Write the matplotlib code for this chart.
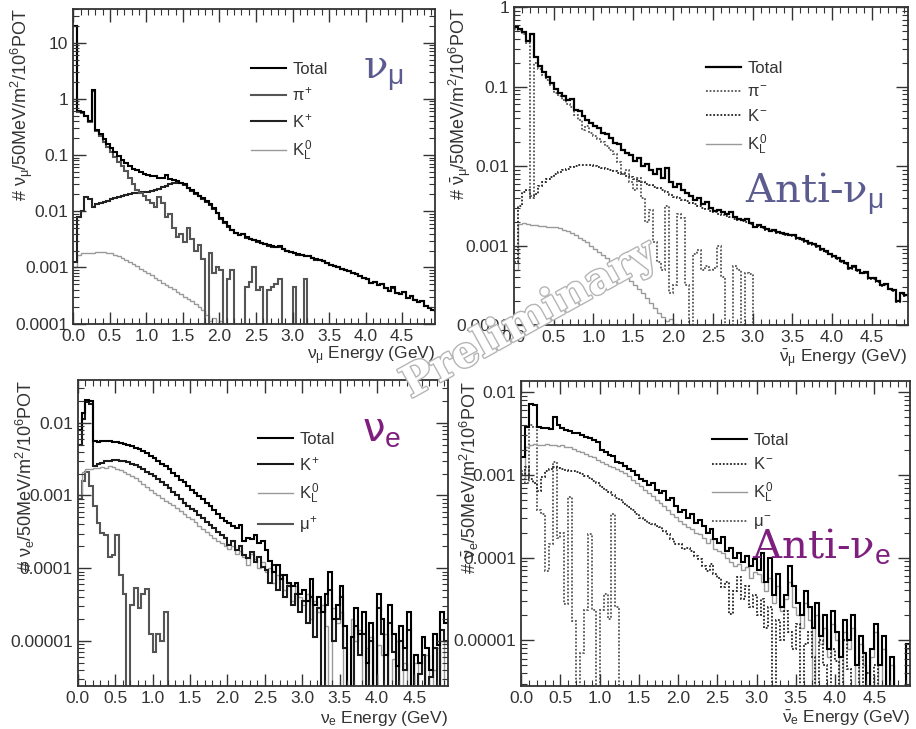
import numpy as np
import matplotlib.pyplot as plt
from matplotlib import patheffects
from matplotlib.ticker import FixedLocator, FixedFormatter, MultipleLocator, LogLocator, NullFormatter

plt.rcParams['font.family'] = ['Liberation Sans', 'DejaVu Sans']
plt.rcParams['mathtext.fontset'] = 'custom'
plt.rcParams['mathtext.rm'] = 'Liberation Sans'
plt.rcParams['mathtext.it'] = 'Liberation Sans'
plt.rcParams['mathtext.bf'] = 'Liberation Sans:bold'

# flux per 50 MeV bin, stored as log10; EMPTY = no entries
EMPTY = -9
bin_edges = np.linspace(0.0, 5.0, 101)

x_ticks = [0.0, 0.5, 1.0, 1.5, 2.0, 2.5, 3.0, 3.5, 4.0, 4.5]
x_tick_labels = ['0.0', '0.5', '1.0', '1.5', '2.0', '2.5', '3.0', '3.5', '4.0', '4.5']

# ---- nu_mu ----
numu_total = [
    1.30, -0.22, -0.24, -0.30, -0.40, 0.15, -0.55, -0.63, -0.72, -0.80,
    -0.88, -0.95, -1.02, -1.08, -1.14, -1.20, -1.24, -1.27, -1.30, -1.33,
    -1.35, -1.37, -1.38, -1.40, -1.41, -1.36, -1.42, -1.45, -1.47, -1.49,
    -1.52, -1.58, -1.63, -1.68, -1.72, -1.77, -1.82, -1.88, -1.95, -2.03,
    -2.12, -2.20, -2.27, -2.33, -2.38, -2.42, -2.40, -2.46, -2.49, -2.51,
    -2.53, -2.56, -2.58, -2.60, -2.62, -2.64, -2.62, -2.67, -2.70, -2.72,
    -2.74, -2.76, -2.78, -2.80, -2.79, -2.83, -2.85, -2.87, -2.88, -2.92,
    -2.95, -2.97, -3.00, -3.02, -3.04, -3.06, -3.09, -3.12, -3.15, -3.18,
    -3.20, -3.27, -3.25, -3.32, -3.30, -3.37, -3.42, -3.35, -3.45, -3.48,
    -3.44, -3.55, -3.50, -3.58, -3.62, -3.60, -3.68, -3.72, -3.76, -3.78]
numu_pip = [
    1.30, -0.23, -0.25, -0.31, -0.41, 0.14, -0.57, -0.66, -0.76, -0.86,
    -0.95, -1.04, -1.12, -1.20, -1.28, -1.40, -1.52, -1.62, -1.68, -1.72,
    -1.80, -1.85, -1.92, -1.75, -1.85, -2.10, -2.05, -2.30, -2.45, -2.40,
    -2.55, -2.30, -2.50, -2.70, -2.60, -2.85, EMPTY, -2.75, -3.10, -3.00,
    -3.05, EMPTY, -3.20, -3.05, EMPTY, EMPTY, EMPTY, -3.35, -3.25, -3.00,
    -3.40, -3.35, EMPTY, -3.40, -3.35, -3.30, -3.20, EMPTY, EMPTY, EMPTY,
    -3.35, EMPTY, EMPTY, -3.20] + [EMPTY] * 36
numu_kp = [
    -2.90, -2.10, -2.00, -1.75, -1.78, -1.92, -1.88, -1.85, -1.83, -1.81,
    -1.79, -1.77, -1.75, -1.73, -1.71, -1.70, -1.68, -1.67, -1.66, -1.66,
    -1.65, -1.64, -1.62, -1.60, -1.57, -1.55, -1.52, -1.50, -1.49, -1.50,
    -1.53, -1.59, -1.64, -1.69, -1.73, -1.78, -1.83, -1.89, -1.96, -2.04,
    -2.13, -2.21, -2.28, -2.34, -2.39, -2.43, -2.41, -2.47, -2.50, -2.52,
    -2.54, -2.57, -2.58, -2.61, -2.63, -2.64, -2.63, -2.68, -2.70, -2.73,
    -2.74, -2.77, -2.78, -2.80, -2.80, -2.83, -2.86, -2.87, -2.89, -2.92,
    -2.95, -2.98, -3.00, -3.02, -3.05, -3.06, -3.09, -3.12, -3.15, -3.19,
    -3.20, -3.27, -3.26, -3.32, -3.30, -3.37, -3.42, -3.36, -3.45, -3.48,
    -3.44, -3.55, -3.51, -3.58, -3.62, -3.60, -3.68, -3.72, -3.76, -3.78]
numu_k0l = [
    -3.00, -2.78, -2.74, -2.74, -2.75, -2.74, -2.73, -2.72, -2.73, -2.74,
    -2.75, -2.77, -2.80, -2.83, -2.86, -2.90, -2.94, -2.98, -3.02, -3.06,
    -3.10, -3.14, -3.18, -3.22, -3.27, -3.31, -3.35, -3.39, -3.44, -3.48,
    -3.52, -3.56, -3.60, -3.65, -3.70, -3.75, -3.85, -3.95, -3.90, -4.05,
    -3.95] + [EMPTY] * 59

# ---- anti nu_mu ----
anumu_total = [
    -0.25, -0.27, -0.31, -0.42, -0.33, -0.62, -0.74, -0.81, -0.88, -0.95,
    -1.03, -1.08, -1.12, -1.17, -1.15, -1.29, -1.30, -1.37, -1.42, -1.46,
    -1.50, -1.52, -1.58, -1.60, -1.65, -1.71, -1.72, -1.80, -1.83, -1.86,
    -1.93, -1.90, -2.00, -1.97, -2.05, -2.10, -2.03, -2.15, -2.02, -2.20,
    -2.26, -2.22, -2.30, -2.34, -2.37, -2.43, -2.40, -2.47, -2.45, -2.52,
    -2.56, -2.55, -2.58, -2.60, -2.58, -2.64, -2.66, -2.68, -2.66, -2.72,
    -2.77, -2.74, -2.77, -2.79, -2.81, -2.80, -2.83, -2.84, -2.85, -2.86,
    -2.87, -2.90, -2.92, -2.94, -2.97, -2.98, -3.01, -3.04, -3.07, -3.10,
    -3.13, -3.16, -3.19, -3.22, -3.28, -3.26, -3.31, -3.34, -3.33, -3.41,
    -3.41, -3.45, -3.50, -3.48, -3.54, -3.56, -3.70, -3.60, -3.62, -3.62]
anumu_pim = [
    -0.27, -0.29, -0.33, -0.45, -2.40, -0.70, -0.78, -0.85, -0.92, -0.98,
    -1.08, -1.12, -1.17, -1.22, -1.25, -1.35, -1.42, -1.54, -1.50, -1.58,
    -1.62, -1.66, -1.70, -1.75, -1.80, -1.85, -1.95, -2.10, -2.05, -2.20,
    -2.30, -2.15, -2.40, -2.70, -2.55, -2.95, -3.20, -3.30, -2.50, -3.60,
    -3.50, -2.60, -2.65, -3.50, EMPTY, -3.10, -3.05, -3.30, -3.25, -3.30,
    -3.28, -3.00, -3.40, EMPTY, EMPTY, -3.25, -3.30, EMPTY, -3.35, -3.36] + [EMPTY] * 40
anumu_km = [
    -3.20, -2.50, -2.33, -2.30, -2.38, -2.35, -2.25, -2.20, -2.16, -2.13,
    -2.10, -2.07, -2.05, -2.03, -2.01, -2.00, -1.99, -1.98, -1.98, -1.99,
    -2.00, -2.01, -2.02, -2.03, -2.05, -2.06, -2.08, -2.10, -2.12, -2.14,
    -2.16, -2.18, -2.20, -2.22, -2.24, -2.26, -2.28, -2.30, -2.33, -2.36,
    -2.39, -2.40, -2.42, -2.44, -2.46, -2.48, -2.50, -2.52, -2.54, -2.56,
    -2.58, -2.60, -2.62, -2.63, -2.64, -2.66, -2.68, -2.69, -2.70, -2.73,
    -2.77, -2.75, -2.78, -2.80, -2.82, -2.81, -2.84, -2.85, -2.86, -2.87,
    -2.88, -2.91, -2.93, -2.95, -2.98, -2.99, -3.02, -3.05, -3.08, -3.11,
    -3.14, -3.17, -3.20, -3.23, -3.29, -3.27, -3.32, -3.35, -3.34, -3.42,
    -3.42, -3.46, -3.51, -3.49, -3.55, -3.57, -3.71, -3.61, -3.63, -3.63]
anumu_k0l = [
    -3.30, -2.73, -2.72, -2.73, -2.74, -2.74, -2.75, -2.75, -2.76, -2.76,
    -2.77, -2.78, -2.80, -2.82, -2.84, -2.87, -2.90, -2.93, -2.96, -3.00,
    -3.04, -3.08, -3.12, -3.16, -3.21, -3.26, -3.30, -3.35, -3.40, -3.45,
    -3.50, -3.55, -3.60, -3.66, -3.72, -3.78, -3.85, -3.90, -3.95, -3.92,
    -3.98] + [EMPTY] * 59

# ---- nu_e ----
nue_total = [
    -2.10, -1.86, -1.68, -1.70, -2.25, -2.26, -2.25, -2.25, -2.25, -2.26,
    -2.27, -2.28, -2.29, -2.30, -2.32, -2.34, -2.36, -2.39, -2.42, -2.45,
    -2.48, -2.52, -2.56, -2.60, -2.64, -2.69, -2.73, -2.78, -2.82, -2.87,
    -2.92, -2.96, -3.01, -3.05, -3.10, -3.15, -3.20, -3.25, -3.31, -3.35,
    -3.38, -3.42, -3.45, -3.40, -3.62, -3.58, -3.60, -3.55, -3.66, -3.62,
    -3.75, -3.90, -4.05, -3.95, -4.15, -4.10, -4.20, -4.25, -4.20, -4.35,
    -4.30, -4.45, -4.15, -4.50, -4.40, -4.60, -4.35, -4.05, -4.70, -4.50,
    -4.25, -4.80, EMPTY, -4.95, -4.55, -4.90, -4.60, -5.30, -4.75, EMPTY,
    -4.35, -4.70, -5.20, -4.50, -4.90, -5.35, -4.80, -5.10, -4.60, EMPTY,
    -5.20, -5.30, -4.95, -5.10, -5.40, -4.90, -5.05, -4.60, -4.75, -4.70]
nue_kp = [
    -2.30, -1.95, -1.72, -1.74, -2.60, -2.57, -2.55, -2.53, -2.52, -2.51,
    -2.51, -2.52, -2.53, -2.54, -2.56, -2.58, -2.61, -2.64, -2.67, -2.70,
    -2.73, -2.77, -2.81, -2.85, -2.90, -2.95, -3.00, -3.05, -3.10, -3.14,
    -3.18, -3.22, -3.27, -3.31, -3.36, -3.40, -3.45, -3.50, -3.55, -3.58,
    -3.68, -3.63, -3.75, -3.70, -3.82, -3.86, -3.78, -3.92, -3.85, -3.98,
    -4.02, -4.20, -3.95, -4.30, -4.10, -4.40, -4.25, -4.50, -4.35, -4.60,
    -4.45, -4.75, -4.40, -4.95, -4.55, EMPTY, -4.50, -4.30, -5.00, -4.70,
    -4.40, -5.10, EMPTY, EMPTY, -4.80, -5.20, -4.90, EMPTY, -5.00, EMPTY,
    -4.55, -4.90, EMPTY, -4.75, -5.15, EMPTY, -5.00, -5.40, -4.85, EMPTY,
    EMPTY, -5.45, -5.20, EMPTY, -5.50, -5.10, EMPTY, -4.85, -5.00, -5.05]
nue_k0l = [
    -3.00, -2.68, -2.64, -2.63, -2.62, -2.62, -2.61, -2.62, -2.60, -2.61,
    -2.63, -2.65, -2.67, -2.70, -2.73, -2.76, -2.80, -2.84, -2.88, -2.92,
    -2.97, -3.00, -3.03, -3.07, -3.10, -3.13, -3.17, -3.21, -3.25, -3.29,
    -3.33, -3.37, -3.42, -3.46, -3.50, -3.54, -3.58, -3.62, -3.66, -3.70,
    -3.74, -3.70, -3.80, -3.76, -3.85, -3.95, -3.80, -3.88, -4.00, -3.92,
    -4.05, -4.00, -4.20, -4.10, -4.15, -4.30, -4.20, -4.45, -4.25, -4.40,
    -4.50, -4.35, -4.70, -4.45, -4.60, -4.50, -4.80, EMPTY, -4.55, -4.75,
    -4.60, EMPTY, EMPTY, -4.70, -5.00, -4.85, EMPTY, -5.10, -4.95, EMPTY,
    -5.05, -5.20, -4.90, EMPTY, -5.25, -5.00, EMPTY, -5.30, EMPTY, EMPTY,
    -5.30, EMPTY, EMPTY, -5.20, EMPTY, -5.40, -5.10, EMPTY, -5.00, -5.20]
nue_mup = [
    -3.05, -2.80, -2.68, -2.87, -3.15, -3.38, -3.52, -3.55, -3.84, -3.82,
    -3.54, -4.10, -4.35, EMPTY, -4.50, -4.27, -4.55, -4.35, -4.28, -4.90,
    -5.15, -4.90, -5.00, -4.60] + [EMPTY] * 76

# ---- anti nu_e ----
anue_total = [
    -2.79, -2.42, -2.14, -2.16, -2.42, -2.44, -2.44, -2.45, -2.30, -2.40,
    -2.44, -2.46, -2.47, -2.49, -2.50, -2.52, -2.54, -2.56, -2.58, -2.60,
    -2.70, -2.73, -2.76, -2.77, -2.84, -2.86, -2.89, -2.93, -2.96, -3.00,
    -3.05, -3.08, -3.12, -3.10, -3.18, -3.22, -3.20, -3.30, -3.28, -3.38,
    -3.45, -3.42, -3.52, -3.48, -3.58, -3.55, -3.62, -3.70, -3.65, -3.78,
    -3.82, -3.75, -3.92, -3.88, -4.00, -3.95, -4.05, -3.98, -4.10, -4.02,
    -4.15, -3.95, -4.30, -4.00, -4.45, -4.20, -4.60, -4.45, -4.10, -4.35,
    -4.55, -4.70, -4.40, -4.60, -4.85, -4.55, -4.95, -4.70, -5.10, -4.65,
    -4.90, -5.20, -4.75, -5.00, -4.70, -5.30, -4.95, -5.15, EMPTY, -5.10,
    -4.80, -5.30, -4.95, EMPTY, -5.20, EMPTY, EMPTY, EMPTY, -5.05, -5.10]
anue_km = [
    -2.99, -2.91, -3.05, -3.10, -3.20, -3.03, -2.95, -2.93, -2.91, -2.92,
    -2.93, -2.94, -2.95, -2.96, -2.97, -2.99, -3.01, -3.04, -3.07, -3.10,
    -3.15, -3.18, -3.21, -3.25, -3.28, -3.31, -3.35, -3.39, -3.43, -3.48,
    -3.52, -3.55, -3.58, -3.60, -3.62, -3.63, -3.68, -3.72, -3.78, -3.84,
    -3.84, -3.90, -3.88, -3.92, -3.98, -4.02, -4.10, -4.16, -4.08, -4.20,
    -4.25, -4.36, -4.30, -4.68, -4.40, -4.24, -4.50, -4.35, -4.60, -4.45,
    -4.70, -4.50, -4.85, -4.60, EMPTY, -4.75, -5.00, -4.65, -4.90, -5.10,
    -4.80, EMPTY, -5.05, -4.90, -5.20, EMPTY, -5.00, -5.30, EMPTY, -5.10,
    -5.25, EMPTY, -5.00, -5.35, EMPTY, EMPTY, -5.20, EMPTY, -5.40, EMPTY,
    -5.30] + [EMPTY] * 9
anue_k0l = [
    -3.05, -2.66, -2.64, -2.63, -2.64, -2.64, -2.63, -2.64, -2.64, -2.65,
    -2.64, -2.66, -2.67, -2.69, -2.71, -2.73, -2.75, -2.77, -2.79, -2.82,
    -2.85, -2.87, -2.89, -2.91, -2.93, -2.95, -2.98, -3.02, -3.06, -3.10,
    -3.14, -3.18, -3.22, -3.26, -3.30, -3.34, -3.38, -3.42, -3.47, -3.51,
    -3.56, -3.60, -3.63, -3.66, -3.70, -3.72, -3.76, -3.82, -3.78, -3.90,
    -3.92, -3.95, -4.00, -4.05, -4.10, -4.08, -4.15, -4.12, -4.25, -4.18,
    -4.20, -4.30, -4.40, -4.25, -4.55, -4.35, -4.65, -4.50, -4.30, -4.60,
    -4.70, -4.85, -4.55, -4.75, EMPTY, -4.70, -5.05, -4.85, -5.20, -4.80,
    -5.00, EMPTY, -4.90, -5.10, -4.85, EMPTY, -5.05, -5.30, EMPTY, -5.20,
    -4.90, EMPTY, -5.10, EMPTY, -5.30, EMPTY, EMPTY, EMPTY, -5.10, EMPTY]
anue_mum = [
    -2.95, -3.10, -2.40, -2.42, -3.43, -3.47, -4.16, -3.84, -2.85, -3.76,
    -3.70, -4.56, -3.27, -4.77, EMPTY, -5.16, -4.64, -3.72, -4.64, EMPTY,
    -4.64, -4.44, -4.74, -3.48, -4.60] + [EMPTY] * 75

# y axis ticks per panel
ticks_numu = [1e-4, 1e-3, 1e-2, 1e-1, 1, 10]
labels_numu = ['0.0001', '0.001', '0.01', '0.1', '1', '10']
ticks_anumu = [1e-4, 1e-3, 1e-2, 1e-1, 1]
labels_anumu = ['0.0001', '0.001', '0.01', '0.1', '1']
ticks_nue = [1e-5, 1e-4, 1e-3, 1e-2]
labels_nue = ['0.00001', '0.0001', '0.001', '0.01']

SOLID = '-'
DOT = (0, (1, 1))


def panel(ax, series, ylim, yticks, ylabels, ytitle, xtitle, leg_xy):
    handles = []
    # components first, total drawn on top
    for vals, label, color, ls, lw in series[::-1]:
        h = ax.stairs(10.0 ** np.array(vals), bin_edges, baseline=None,
                      color=color, linestyle=ls, lw=lw, label=label)
        handles.insert(0, h)
    ax.set_yscale('log')
    ax.set_xlim(0, 4.95)
    ax.set_ylim(*ylim)
    ax.xaxis.set_major_locator(FixedLocator(x_ticks))
    ax.xaxis.set_major_formatter(FixedFormatter(x_tick_labels))
    ax.xaxis.set_minor_locator(MultipleLocator(0.1))
    ax.yaxis.set_major_locator(FixedLocator(yticks))
    ax.yaxis.set_major_formatter(FixedFormatter(ylabels))
    ax.yaxis.set_minor_locator(LogLocator(base=10, subs=np.arange(2, 10), numticks=30))
    ax.yaxis.set_minor_formatter(NullFormatter())
    ax.tick_params(which='both', direction='in', top=True, right=True,
                   labelsize=12.5, labelcolor='#333333', color='#333333')
    ax.tick_params(which='major', length=9, width=1.0)
    ax.tick_params(which='minor', length=4.5, width=0.8)
    for s in ax.spines.values():
        s.set_linewidth(1.3)
        s.set_color('#333333')
    ax.set_ylabel(ytitle, loc='top', fontsize=13, color='#333333')
    ax.set_xlabel(xtitle, loc='right', fontsize=12.5, color='#333333')
    ax.legend(handles, [s[1] for s in series], loc='upper left', bbox_to_anchor=leg_xy,
              frameon=False, fontsize=12, handlelength=2.1, handletextpad=0.4,
              labelspacing=0.5, borderpad=0, borderaxespad=0, labelcolor='#333333')


fig = plt.figure(figsize=(9.16, 7.29), dpi=100)
ax1 = fig.add_axes([0.080, 0.556, 0.395, 0.432])
ax2 = fig.add_axes([0.561, 0.554, 0.430, 0.436])
ax3 = fig.add_axes([0.085, 0.059, 0.404, 0.420])
ax4 = fig.add_axes([0.569, 0.059, 0.424, 0.418])

panel(ax1, [(numu_total, 'Total', 'black', SOLID, 1.5),
            (numu_pip, r'$\pi^{+}$', '#555555', SOLID, 1.5),
            (numu_kp, r'$K^{+}$', '#222222', SOLID, 1.5),
            (numu_k0l, r'$K^{0}_{L}$', '#9a9a9a', SOLID, 1.0)],
      (1e-4, 40), ticks_numu, labels_numu,
      r'# $\nu_{\mu}$/50MeV/m$^{2}$/10$^{6}$POT', r'$\nu_{\mu}$ Energy (GeV)', (0.49, 0.83))
panel(ax2, [(anumu_total, 'Total', 'black', SOLID, 1.6),
            (anumu_pim, r'$\pi^{-}$', '#555555', DOT, 1.3),
            (anumu_km, r'$K^{-}$', '#222222', DOT, 1.3),
            (anumu_k0l, r'$K^{0}_{L}$', '#9a9a9a', SOLID, 1.0)],
      (1e-4, 1), ticks_anumu, labels_anumu,
      r'# $\bar{\nu}_{\mu}$/50MeV/m$^{2}$/10$^{6}$POT', r'$\bar{\nu}_{\mu}$ Energy (GeV)', (0.487, 0.83))
panel(ax3, [(nue_total, 'Total', 'black', SOLID, 1.5),
            (nue_kp, r'$K^{+}$', '#1a1a1a', SOLID, 1.5),
            (nue_k0l, r'$K^{0}_{L}$', '#9a9a9a', SOLID, 1.0),
            (nue_mup, r'$\mu^{+}$', '#555555', SOLID, 1.5)],
      (2.4e-6, 0.039), ticks_nue, labels_nue,
      r'# $\nu_{e}$/50MeV/m$^{2}$/10$^{6}$POT', r'$\nu_{e}$ Energy (GeV)', (0.486, 0.83))
panel(ax4, [(anue_total, 'Total', 'black', SOLID, 1.5),
            (anue_km, r'$K^{-}$', '#222222', DOT, 1.3),
            (anue_k0l, r'$K^{0}_{L}$', '#9a9a9a', SOLID, 1.0),
            (anue_mum, r'$\mu^{-}$', '#555555', DOT, 1.3)],
      (2.8e-6, 0.0135), ticks_nue, labels_nue,
      r'# $\bar{\nu}_{e}$/50MeV/m$^{2}$/10$^{6}$POT', r'$\bar{\nu}_{e}$ Energy (GeV)', (0.49, 0.83))

# y titles sit against the tick labels, as in the ROOT original
ax1.yaxis.set_label_coords(-0.105, 1.0)
ax2.yaxis.set_label_coords(-0.104, 1.0)
ax3.yaxis.set_label_coords(-0.11, 1.0)
ax4.yaxis.set_label_coords(-0.103, 1.0)
ax1.xaxis.set_label_coords(1.0, -0.065)
ax2.xaxis.set_label_coords(1.0, -0.068)
ax3.xaxis.set_label_coords(1.0, -0.075)
ax4.xaxis.set_label_coords(1.0, -0.075)

# big flavour tags (upright nu, subscript in the custom math font)
blue = '#5b5b8f'
purple = '#7e1f7e'
ax1.text(0.80, 0.78, r'ν$_{\mu}$', transform=ax1.transAxes, fontsize=29,
         color=blue, family='DejaVu Serif', math_fontfamily='custom', va='baseline')
ax2.text(0.586, 0.384, r'Anti-ν$_{\mu}$', transform=ax2.transAxes, fontsize=29,
         color=blue, family='DejaVu Serif', math_fontfamily='custom', va='baseline')
ax3.text(0.768, 0.80, r'ν$_{e}$', transform=ax3.transAxes, fontsize=29,
         color=purple, family='DejaVu Sans', math_fontfamily='custom', va='baseline')
ax4.text(0.595, 0.42, r'Anti-ν$_{e}$', transform=ax4.transAxes, fontsize=29,
         color=purple, family='DejaVu Serif', math_fontfamily='custom', va='baseline')

fig.text(0.578, 0.562, 'Preliminary', rotation=29, fontsize=31, family='DejaVu Serif',
         weight='bold', color='white', ha='center', va='center', rotation_mode='anchor',
         path_effects=[patheffects.withStroke(linewidth=2, foreground='#b5b5b5')])

fig.savefig('out.png', dpi=100)
